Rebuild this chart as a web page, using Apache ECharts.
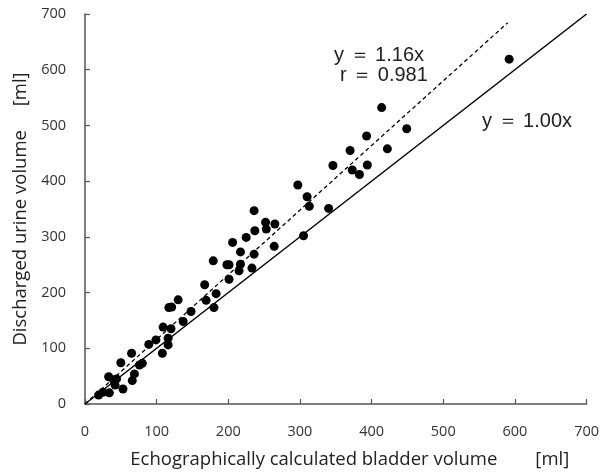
<!DOCTYPE html>
<html>
<head>
<meta charset="utf-8">
<script src="https://cdn.jsdelivr.net/npm/echarts@6/dist/echarts.min.js"></script>
<style>html,body{margin:0;padding:0;background:#fff}#c{width:602px;height:474px}</style>
</head>
<body>
<div id="c"></div>
<script>
// Echographically calculated bladder volume [ml]
const echoVolume = [414,449,393,422,370,346,394,373,383,297,310,313,340,305,592,
  236,252,265,237,253,225,206,264,217,236,198,201,179,217,215,233,201,183,167,169,180,
  130,117,121,148,137,109,120,116,99,89,116,108,65,76,80,50,33,40,44,42,69,66,53,34,25,19];
// Discharged urine volume [ml]
const urineVolume = [532,494,481,458,455,428,429,420,412,393,372,355,351,302,619,
  347,326,323,311,314,299,290,283,273,269,250,250,257,251,239,244,224,198,214,186,173,
  187,173,174,166,148,138,135,118,115,107,106,91,91,70,73,74,49,43,45,34,54,42,27,20,21,16];
const identitySlope = 1.00;
const regressionSlope = 1.16;
const identityRange = [0, 700];
const regressionRange = [0, 590];
const xTicks = [0,100,200,300,400,500,600,700];
const yTicks = [0,100,200,300,400,500,600,700];

const points = echoVolume.map((x, i) => [x, urineVolume[i]]);
const identityLine = identityRange.map(x => [x, x * identitySlope]);
const regressionLine = regressionRange.map(x => [x, x * regressionSlope]);

const chart = echarts.init(document.getElementById('c'), null, {renderer: 'canvas'});
const axisColor = '#555';
const labelFont = 'Open Sans';
chart.setOption({
  animation: false,
  grid: {left: 85, right: 15, top: 14, bottom: 66, containLabel: false},
  xAxis: {
    type: 'value', min: xTicks[0], max: xTicks[xTicks.length-1], interval: 100,
    name: 'Echographically calculated bladder volume\u3000\u3000[ml]',
    nameLocation: 'middle', nameGap: 46,
    nameTextStyle: {fontFamily: labelFont, fontSize: 18.5, color: '#222', padding: [0,0,0,28]},
    axisLine: {lineStyle: {color: axisColor, width: 1.5}},
    axisTick: {inside: true, length: 5, lineStyle: {color: axisColor, width: 1.2}},
    axisLabel: {fontFamily: labelFont, fontSize: 14.5, color: '#333', margin: 20},
    splitLine: {show: false}
  },
  yAxis: {
    type: 'value', min: yTicks[0], max: yTicks[yTicks.length-1], interval: 100,
    name: 'Discharged urine volume\u3000 [ml]',
    nameLocation: 'middle', nameGap: 54,
    nameTextStyle: {fontFamily: labelFont, fontSize: 18.5, color: '#222'},
    axisLine: {lineStyle: {color: axisColor, width: 1.5}},
    axisTick: {inside: true, length: 5, lineStyle: {color: axisColor, width: 1.2}},
    axisLabel: {fontFamily: labelFont, fontSize: 14.5, color: '#333', margin: 19},
    splitLine: {show: false}
  },
  series: [
    {type: 'line', data: identityLine, showSymbol: false, symbol: 'none',
      lineStyle: {color: '#000', width: 1.5}, z: 2},
    {type: 'line', data: regressionLine, showSymbol: false, symbol: 'none',
      lineStyle: {color: '#000', width: 1.3, type: [4, 3]}, z: 2},
    {type: 'scatter', data: points, symbol: 'circle', symbolSize: 9,
      itemStyle: {color: '#000', opacity: 1}, z: 3}
  ],
  graphic: [
    {type: 'text', left: 334, top: 45, style: {text: 'y \uFF1D 1.16x', font: '20px "Liberation Sans"', fill: '#222'}},
    {type: 'text', left: 340, top: 65, style: {text: 'r \uFF1D 0.981', font: '20px "Liberation Sans"', fill: '#222'}},
    {type: 'text', left: 482, top: 111, style: {text: 'y \uFF1D 1.00x', font: '20px "Liberation Sans"', fill: '#222'}}
  ]
});
</script>
</body>
</html>
